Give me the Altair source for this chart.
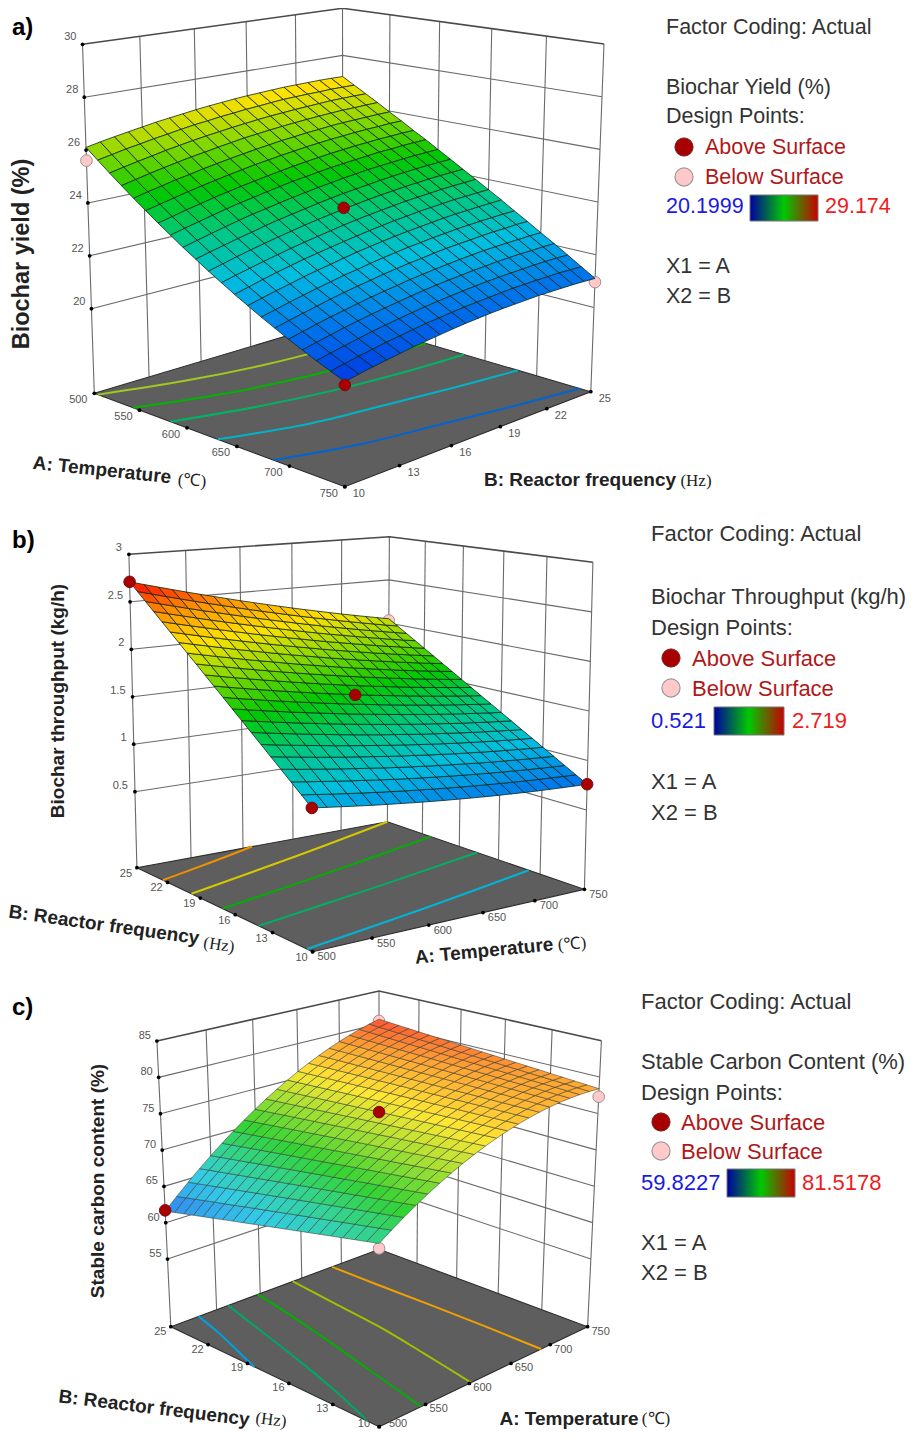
import altair as alt, numpy as np, pandas as pd
alt.data_transformers.disable_max_rows()

A_TICKS = [500, 550, 600, 650, 700, 750]
B_TICKS = [10, 13, 16, 19, 22, 25]

# Response: rows are A = 500..750 (21 steps), columns B = 10..25 (21 steps)
YIELD = [
[26.10,26.21,26.31,26.40,26.49,26.58,26.65,26.72,26.79,26.85,26.90,26.95,26.99,27.02,27.05,27.08,27.09,27.10,27.11,27.11,27.10],
[25.72,25.83,25.94,26.03,26.13,26.21,26.30,26.38,26.44,26.51,26.56,26.62,26.66,26.71,26.75,26.77,26.79,26.80,26.82,26.82,26.82],
[25.34,25.46,25.57,25.67,25.78,25.87,25.96,26.04,26.11,26.18,26.24,26.30,26.35,26.39,26.43,26.46,26.49,26.52,26.53,26.54,26.54],
[24.98,25.10,25.22,25.33,25.43,25.53,25.61,25.70,25.78,25.86,25.92,25.98,26.03,26.08,26.12,26.16,26.19,26.22,26.23,26.25,26.26],
[24.62,24.75,24.86,24.98,25.07,25.18,25.27,25.36,25.44,25.52,25.59,25.66,25.71,25.77,25.81,25.86,25.89,25.91,25.93,25.95,25.96],
[24.28,24.40,24.52,24.64,24.75,24.85,24.95,25.04,25.13,25.20,25.28,25.34,25.41,25.46,25.51,25.55,25.59,25.62,25.64,25.67,25.68],
[23.94,24.06,24.19,24.30,24.42,24.52,24.62,24.71,24.80,24.88,24.96,25.03,25.09,25.15,25.20,25.25,25.28,25.32,25.34,25.37,25.38],
[23.62,23.75,23.87,23.99,24.11,24.22,24.31,24.41,24.50,24.59,24.66,24.73,24.80,24.85,24.90,24.95,25.00,25.02,25.06,25.08,25.10],
[23.30,23.43,23.56,23.68,23.80,23.91,24.00,24.10,24.19,24.27,24.35,24.42,24.49,24.55,24.61,24.65,24.69,24.73,24.76,24.78,24.80],
[23.00,23.13,23.25,23.37,23.48,23.60,23.70,23.79,23.88,23.97,24.05,24.12,24.18,24.24,24.30,24.35,24.39,24.43,24.46,24.48,24.50],
[22.70,22.83,22.96,23.08,23.19,23.30,23.40,23.50,23.59,23.67,23.75,23.82,23.89,23.95,24.00,24.05,24.09,24.13,24.16,24.18,24.20],
[22.42,22.55,22.67,22.79,22.90,23.01,23.11,23.20,23.29,23.38,23.46,23.53,23.59,23.65,23.71,23.75,23.79,23.83,23.86,23.88,23.90],
[22.14,22.27,22.40,22.52,22.63,22.74,22.83,22.92,23.01,23.09,23.17,23.24,23.31,23.36,23.42,23.46,23.50,23.54,23.56,23.58,23.60],
[21.88,22.01,22.13,22.24,22.36,22.46,22.55,22.65,22.74,22.82,22.89,22.96,23.02,23.07,23.12,23.17,23.21,23.23,23.26,23.28,23.30],
[21.62,21.74,21.86,21.97,22.08,22.18,22.28,22.36,22.45,22.53,22.60,22.67,22.72,22.78,22.82,22.87,22.90,22.93,22.95,22.97,22.98],
[21.38,21.50,21.61,21.72,21.83,21.93,22.02,22.10,22.19,22.26,22.33,22.38,22.45,22.50,22.54,22.57,22.61,22.64,22.65,22.68,22.68],
[21.14,21.26,21.37,21.48,21.57,21.67,21.76,21.84,21.91,21.99,22.05,22.11,22.16,22.21,22.25,22.29,22.31,22.33,22.34,22.36,22.36],
[20.92,21.03,21.14,21.25,21.34,21.43,21.51,21.59,21.66,21.73,21.79,21.84,21.88,21.93,21.96,22.00,22.02,22.04,22.04,22.06,22.06],
[20.70,20.81,20.91,21.01,21.11,21.19,21.27,21.34,21.41,21.47,21.52,21.57,21.61,21.65,21.68,21.70,21.72,21.74,21.75,21.75,21.74],
[20.50,20.60,20.70,20.79,20.88,20.95,21.03,21.10,21.15,21.21,21.26,21.30,21.33,21.37,21.40,21.41,21.43,21.43,21.44,21.43,21.42],
[20.30,20.40,20.49,20.57,20.65,20.73,20.79,20.85,20.91,20.96,21.00,21.04,21.07,21.09,21.11,21.13,21.13,21.13,21.13,21.12,21.10],
]
THROUGHPUT = [
[1.000,1.086,1.171,1.257,1.342,1.428,1.513,1.599,1.684,1.770,1.855,1.941,2.026,2.112,2.197,2.283,2.368,2.454,2.539,2.625,2.710],
[.981,1.065,1.150,1.234,1.319,1.403,1.488,1.572,1.657,1.741,1.826,1.910,1.994,2.079,2.163,2.248,2.332,2.417,2.501,2.586,2.670],
[.963,1.046,1.130,1.213,1.297,1.380,1.463,1.547,1.630,1.714,1.797,1.880,1.964,2.047,2.131,2.214,2.297,2.381,2.464,2.548,2.631],
[.945,1.027,1.110,1.192,1.274,1.357,1.439,1.521,1.604,1.686,1.769,1.851,1.933,2.016,2.098,2.180,2.263,2.345,2.427,2.510,2.592],
[.928,1.009,1.091,1.172,1.253,1.335,1.416,1.497,1.578,1.660,1.741,1.822,1.904,1.985,2.066,2.148,2.229,2.310,2.391,2.473,2.554],
[.912,.992,1.073,1.153,1.233,1.313,1.394,1.474,1.554,1.634,1.715,1.795,1.875,1.955,2.036,2.116,2.196,2.276,2.357,2.437,2.517],
[.897,.976,1.055,1.135,1.214,1.293,1.372,1.451,1.531,1.610,1.689,1.768,1.847,1.927,2.006,2.085,2.164,2.243,2.323,2.402,2.481],
[.882,.960,1.038,1.116,1.195,1.273,1.351,1.429,1.507,1.585,1.664,1.742,1.820,1.898,1.976,2.054,2.132,2.211,2.289,2.367,2.445],
[.868,.945,1.022,1.099,1.176,1.254,1.331,1.408,1.485,1.562,1.639,1.716,1.793,1.870,1.947,2.025,2.102,2.179,2.256,2.333,2.410],
[.855,.931,1.007,1.083,1.159,1.235,1.311,1.387,1.463,1.539,1.616,1.692,1.768,1.844,1.920,1.996,2.072,2.148,2.224,2.300,2.376],
[.843,.918,.993,1.068,1.143,1.218,1.293,1.368,1.443,1.518,1.593,1.668,1.743,1.818,1.893,1.968,2.043,2.118,2.193,2.268,2.343],
[.831,.905,.979,1.053,1.127,1.201,1.275,1.349,1.423,1.497,1.571,1.644,1.718,1.792,1.866,1.940,2.014,2.088,2.162,2.236,2.310],
[.820,.893,.966,1.039,1.112,1.185,1.257,1.330,1.403,1.476,1.549,1.622,1.695,1.768,1.841,1.914,1.986,2.059,2.132,2.205,2.278],
[.810,.882,.954,1.026,1.097,1.169,1.241,1.313,1.385,1.457,1.529,1.600,1.672,1.744,1.816,1.888,1.960,2.031,2.103,2.175,2.247],
[.801,.872,.943,1.013,1.084,1.155,1.226,1.297,1.367,1.438,1.509,1.580,1.651,1.721,1.792,1.863,1.934,2.005,2.075,2.146,2.217],
[.792,.862,.932,1.001,1.071,1.141,1.211,1.280,1.350,1.420,1.490,1.559,1.629,1.699,1.769,1.838,1.908,1.978,2.048,2.117,2.187],
[.784,.853,.921,.990,1.059,1.128,1.196,1.265,1.334,1.402,1.471,1.540,1.608,1.677,1.746,1.815,1.883,1.952,2.021,2.089,2.158],
[.777,.845,.912,.980,1.048,1.115,1.183,1.251,1.318,1.386,1.454,1.521,1.589,1.656,1.724,1.792,1.859,1.927,1.995,2.062,2.130],
[.771,.838,.904,.971,1.037,1.104,1.171,1.237,1.304,1.370,1.437,1.504,1.570,1.637,1.703,1.770,1.837,1.903,1.970,2.036,2.103],
[.765,.831,.896,.962,1.027,1.093,1.158,1.224,1.289,1.355,1.421,1.486,1.552,1.617,1.683,1.748,1.814,1.879,1.945,2.010,2.076],
[.760,.825,.889,.954,1.018,1.083,1.147,1.212,1.276,1.341,1.405,1.470,1.534,1.599,1.663,1.728,1.792,1.857,1.921,1.986,2.050],
]
CARBON = [
[68.20,67.87,67.54,67.21,66.88,66.55,66.22,65.89,65.56,65.23,64.90,64.57,64.24,63.91,63.58,63.25,62.92,62.59,62.26,61.93,61.60],
[69.28,68.97,68.66,68.36,68.05,67.74,67.43,67.13,66.82,66.51,66.20,65.89,65.59,65.28,64.97,64.66,64.36,64.05,63.74,63.43,63.12],
[70.30,70.01,69.73,69.44,69.16,68.87,68.59,68.30,68.02,67.73,67.45,67.16,66.87,66.59,66.30,66.02,65.73,65.45,65.16,64.88,64.59],
[71.26,71.00,70.73,70.47,70.21,69.94,69.68,69.42,69.15,68.89,68.63,68.36,68.10,67.84,67.57,67.31,67.05,66.78,66.52,66.26,65.99],
[72.16,71.92,71.68,71.44,71.20,70.96,70.71,70.47,70.23,69.99,69.75,69.51,69.27,69.03,68.79,68.55,68.30,68.06,67.82,67.58,67.34],
[73.00,72.78,72.56,72.34,72.12,71.91,71.69,71.47,71.25,71.03,70.81,70.59,70.37,70.16,69.94,69.72,69.50,69.28,69.06,68.84,68.62],
[73.78,73.58,73.39,73.19,72.99,72.80,72.60,72.40,72.21,72.01,71.82,71.62,71.42,71.23,71.03,70.83,70.64,70.44,70.24,70.05,69.85],
[74.50,74.33,74.15,73.98,73.80,73.63,73.45,73.28,73.11,72.93,72.76,72.58,72.41,72.23,72.06,71.89,71.71,71.54,71.36,71.19,71.01],
[75.16,75.01,74.86,74.70,74.55,74.40,74.25,74.10,73.94,73.79,73.64,73.49,73.34,73.18,73.03,72.88,72.73,72.58,72.42,72.27,72.12],
[75.76,75.63,75.50,75.37,75.24,75.11,74.98,74.85,74.72,74.59,74.46,74.33,74.20,74.07,73.94,73.81,73.68,73.55,73.42,73.29,73.16],
[76.30,76.19,76.09,75.98,75.87,75.76,75.66,75.55,75.44,75.33,75.23,75.12,75.01,74.90,74.80,74.69,74.58,74.47,74.37,74.26,74.15],
[76.78,76.69,76.61,76.52,76.44,76.35,76.27,76.18,76.10,76.01,75.93,75.84,75.76,75.67,75.59,75.50,75.42,75.33,75.25,75.16,75.07],
[77.20,77.14,77.07,77.01,76.95,76.89,76.82,76.76,76.70,76.63,76.57,76.51,76.44,76.38,76.32,76.26,76.19,76.13,76.07,76.00,75.94],
[77.56,77.52,77.48,77.44,77.40,77.36,77.32,77.27,77.23,77.19,77.15,77.11,77.07,77.03,76.99,76.95,76.91,76.87,76.83,76.78,76.74],
[77.86,77.84,77.82,77.80,77.79,77.77,77.75,77.73,77.71,77.69,77.68,77.66,77.64,77.62,77.60,77.58,77.56,77.55,77.53,77.51,77.49],
[78.10,78.10,78.11,78.11,78.12,78.12,78.12,78.13,78.13,78.13,78.14,78.14,78.15,78.15,78.15,78.16,78.16,78.16,78.17,78.17,78.18],
[78.28,78.31,78.33,78.36,78.38,78.41,78.44,78.46,78.49,78.51,78.54,78.57,78.59,78.62,78.64,78.67,78.70,78.72,78.75,78.77,78.80],
[78.40,78.45,78.50,78.54,78.59,78.64,78.69,78.74,78.79,78.83,78.88,78.93,78.98,79.03,79.08,79.12,79.17,79.22,79.27,79.32,79.37],
[78.46,78.53,78.60,78.67,78.74,78.81,78.88,78.95,79.02,79.09,79.17,79.24,79.31,79.38,79.45,79.52,79.59,79.66,79.73,79.80,79.87],
[78.46,78.55,78.65,78.74,78.83,78.92,79.02,79.11,79.20,79.30,79.39,79.48,79.57,79.67,79.76,79.85,79.94,80.04,80.13,80.22,80.32],
[78.40,78.52,78.63,78.75,78.86,78.98,79.09,79.21,79.32,79.44,79.55,79.67,79.78,79.90,80.01,80.13,80.24,80.36,80.47,80.59,80.70],
]

# Camera calibration: where the box corners sit on the page, keyed by (A end, B end)
PANELS = [
 dict(grid=YIELD, zr=(16.8, 30), cmin=20.1999, cmax=29.174, light=0.0, mesh=('#12281c',0.9,0.9),
      floor={(0,0):(94.3,393.3),(0,1):(343,319),(1,0):(344.8,486.7),(1,1):(590.8,391.7)},
      top={(0,0):(82.5,44.3),(0,1):(342.5,8.3),(1,0):(345,90.7),(1,1):(604,44)},
      path=[(500,10),(500,25),(750,25)], a_edge=10, b_edge=750,
      zt=[20,22,24,26,28,30], zl=['20','22','24','26','28','30'],
      al=(-16,7), bl=(14,7), zoff=(-6,-7),
      contours=[([504,525,539,546,548],'#a0c820'),([543,566,580,587,590],'#00b400'),
                ([583,603,617,625,629],'#00b464'),([631,653,664,674,682],'#00b4c8'),
                ([685,706,718,730,740],'#0064d2')],
      red=[(750,10,20.19),(625,17.5,23.8)], pink=[(500,10,25.6),(750,25,20.96)]),
 dict(grid=THROUGHPUT, zr=(-0.3, 3), cmin=0.521, cmax=2.719, light=0.0, mesh=('#12281c',0.9,0.9),
      floor={(0,1):(136.9,867.7),(0,0):(312.6,951.7),(1,0):(584.4,889.3),(1,1):(387.4,821.7)},
      top={(0,1):(128.9,554.3),(0,0):(310.6,586.7),(1,0):(592.9,562.3),(1,1):(389.4,536.7)},
      path=[(500,25),(750,25),(750,10)], a_edge=10, b_edge=500,
      zt=[0.5,1,1.5,2,2.5,3], zl=['0.5','1','1.5','2','2.5','3'],
      al=(14,5.5), bl=(-11,6), zoff=(-7,-6),
      contour_pairs=[([500,625,750],[10.4,12.0,13.8],'#00b4d8'),([500,625,750],[14.1,15.8,17.6],'#00b060'),
                     ([500,625,750],[17.07,19.1,21.3],'#00b000'),([500,625,750],[19.8,22.3,25],'#d4c800'),
                     ([500,555,609],[22.46,23.7,25],'#f09000')],
      red=[(500,25,2.71),(625,17.5,1.59),(500,10,1.0),(750,10,0.76)], pink=[(750,25,2.03)]),
 dict(grid=CARBON, zr=(45.7, 85), cmin=59.8227, cmax=81.5178, light=0.2, mesh=('#2e3a30',0.7,0.75),
      floor={(0,1):(170.8,1326.7),(0,0):(379.2,1426.7),(1,0):(587.6,1326.7),(1,1):(379.2,1249.3)},
      top={(0,1):(156.9,1041),(0,0):(379,1106.7),(1,0):(601.4,1040.7),(1,1):(379,991)},
      path=[(500,25),(750,25),(750,10)], a_edge=10, b_edge=500,
      zt=[55,60,65,70,75,80,85], zl=['55','60','65','70','75','80','85'],
      al=(13,5), bl=(-10.5,5), zoff=(-6,-5),
      contour_pairs=[([500,510,521,530],[18.5,20.5,22.75,25],'#00a0e0'),
                     ([500,516,533,548,563],[10.7,13.75,17.5,21.25,25],'#00a868'),
                     ([545,559,573,586,597],[10,13.75,17.5,21.25,25],'#00b000'),
                     ([602,614,625,632,639],[10,13.75,17.5,21.25,25],'#a0c000'),
                     ([688,689,689,688,688],[10,13.75,17.5,21.25,25],'#f0a000')],
      red=[(500,25,61.7),(625,17.5,75.2)], pink=[(500,10,67.6),(750,25,80.45),(750,10,77.3)]),
]
A_CONTOUR_B = [10, 13.75, 17.5, 21.25, 25]

COLOR_STOPS = [0, .125, .25, .375, .5, .625, .75, .875, 1]
COLOR_RGB = [(0,50,225),(0,120,235),(0,190,225),(0,200,130),(0,200,0),(130,215,0),(255,225,0),(255,140,0),(255,0,0)]

TITLES_BOLD = [(12,28,'a)',0),(12,541,'b)',0),(12,1008,'c)',0)]
YTITLE_A = [(22,254,'Biochar yield (%)',270)]
AXIS_BOLD = [
 (58,701,'Biochar throughput (kg/h)',270),(98,1181,'Stable carbon content (%)',270),
 (102,470,'A: Temperature',6),(580,480,'B: Reactor frequency',0),
 (104,925,'B: Reactor frequency',8),(484,951,'A: Temperature',354.5),
 (154,1408,'B: Reactor frequency',7),(569,1419,'A: Temperature',0),
]
AXIS_UNITS = [
 (192,481,'(℃)',4),(696,481,'(Hz)',0),(219,945,'(Hz)',9),(572,944,'(℃)',355),(271,1420,'(Hz)',7),(656,1419,'(℃)',0),
]
LEGENDS = [
 dict(x=666,size=21.5,ys=[28,88,117,267,297],head='Biochar Yield (%)',dots=(684,705,147,177),lo='20.1999',hi='29.174',bar=(750,818,195,221),hix=825,ly=207),
 dict(x=651,size=22,ys=[534,597,628,782,813],head='Biochar Throughput (kg/h)',dots=(671,692,658,688),lo='0.521',hi='2.719',bar=(714,784,707,735),hix=792,ly=721),
 dict(x=641,size=22,ys=[1002,1062,1093,1243,1273],head='Stable Carbon Content (%)',dots=(661,681,1122,1151),lo='59.8227',hi='81.5178',bar=(727,795,1169,1197),hix=802,ly=1183),
]

X = alt.X('x:Q', scale=alt.Scale(domain=[8, 908]), axis=None)
Y = alt.Y('y:Q', scale=alt.Scale(domain=[1430, 8]), axis=None)

def homography(c):
    src = [(0,0),(0,1),(1,0),(1,1)]
    M, R = [], []
    for (u,v) in src:
        x,y = c[(u,v)]
        M.append([u,v,1,0,0,0,-u*x,-v*x]); R.append(x)
        M.append([0,0,0,u,v,1,-u*y,-v*y]); R.append(y)
    h = np.linalg.solve(np.array(M,float), np.array(R,float))
    return np.append(h,1).reshape(3,3)

def apply(H,u,v):
    p = H @ np.array([u,v,1.0])
    return p[:2]/p[2]

def projector(P):
    Hf, Ht = homography(P['floor']), homography(P['top'])
    z0, z1 = P['zr']
    def f(a,b,z):
        u,v = (a-500)/250,(b-10)/15
        t = (z-z0)/(z1-z0)
        pf, pt = apply(Hf,u,v), apply(Ht,u,v)
        return tuple(pf+t*(pt-pf))
    return f

def shade(t, light):
    t = min(max(t,0),1)
    c = [np.interp(t,COLOR_STOPS,[r[k] for r in COLOR_RGB]) for k in range(3)]
    c = [v+(255-v)*light for v in c]
    return '#%02x%02x%02x' % tuple(int(round(v)) for v in c)

def text_layer(rows, size, color='#333333', font='Liberation Sans', weight='normal', align='left'):
    df = pd.DataFrame(rows, columns=['x','y','t','a'])
    return alt.Chart(df).mark_text(fontSize=size, color=color, font=font, fontWeight=weight, align=align, baseline='middle').encode(
        X, Y, text='t:N', angle=alt.Angle('a:Q', scale=None))

def dots(pts, size, fill, stroke, sw=1):
    df = pd.DataFrame(pts, columns=['x','y'])
    return alt.Chart(df).mark_point(filled=True, shape='circle', size=size, fill=fill, stroke=stroke, strokeWidth=sw, opacity=1).encode(X, Y)

def lines(paths, color, width, **kw):
    rows = [dict(x=p[0],y=p[1],id=i,k=k) for i,path in enumerate(paths) for k,p in enumerate(path)]
    return alt.Chart(pd.DataFrame(rows)).mark_line(color=color, strokeWidth=width, **kw).encode(X, Y, detail='id:N', order='k:Q')

def tick_label(x, y, off, text):
    ly = y + off[1]
    lx = x + off[0]
    if ly > 1423.5:            # keep the lowest labels inside the canvas, clear of the floor tip
        ly = 1423.5
        lx = x + off[0] * 1.45
    return (lx, ly, text, 0)

layers = []
for P in PANELS:
    f = projector(P)
    z0, z1 = P['zr']
    p0,p1,p2 = P['path']
    wall = []
    for z in P['zt'][:-1]:
        wall.append([f(*p0,z),f(*p1,z),f(*p2,z)])
    for seg in ((p0,p1),(p1,p2)):
        a,b = seg
        if a[0]==b[0]:
            for t in B_TICKS[1:-1]:
                wall.append([f(a[0],t,z0),f(a[0],t,z1)])
        else:
            for t in A_TICKS[1:-1]:
                wall.append([f(t,a[1],z0),f(t,a[1],z1)])
    for c in (p0,p1,p2):
        wall.append([f(*c,z0),f(*c,z1)])
    layers.append(lines(wall,'#6a6a6a',1.1))
    layers.append(lines([[f(*p0,z1),f(*p1,z1),f(*p2,z1)]],'#4a4a4a',1.6))
    corners = [(500,10),(500,25),(750,25),(750,10),(500,10)]
    fl = pd.DataFrame([dict(x=f(a,b,z0)[0],y=f(a,b,z0)[1],k=k) for k,(a,b) in enumerate(corners)])
    layers.append(alt.Chart(fl).mark_line(fill='#5e5e5e', stroke='#2e2e2e', strokeWidth=1.1).encode(X,Y,order='k:Q'))
    cps = P.get('contour_pairs') or [(a,A_CONTOUR_B,c) for a,c in P['contours']]
    for As,Bs,col in cps:
        layers.append(lines([[f(a,b,z0) for a,b in zip(As,Bs)]],col,2,interpolate='cardinal'))
    layers.append(dots([f(*q) for q in P['pink']],135,'#ffc9c9','#a09090'))
    g = P['grid']
    rows = []
    step_a, step_b = 12.5, 0.75
    for i in range(20):
        for j in range(20):
            idx = [(i,j),(i+1,j),(i+1,j+1),(i,j+1),(i,j)]
            zm = (g[i][j]+g[i+1][j]+g[i+1][j+1]+g[i][j+1])/4
            col = shade((zm-P['cmin'])/(P['cmax']-P['cmin']),P['light'])
            for k,(ii,jj) in enumerate(idx):
                x,y = f(500+ii*step_a,10+jj*step_b,g[ii][jj])
                rows.append(dict(x=round(x,2),y=round(y,2),id=i*100+j,k=k,col=col))
    ms,mw,mo = P['mesh']
    layers.append(alt.Chart(pd.DataFrame(rows)).mark_line(stroke=ms, strokeWidth=mw, strokeOpacity=mo).encode(
        X, Y, detail='id:N', order='k:Q', fill=alt.Fill('col:N', scale=None)))
    layers.append(dots([f(*q) for q in P['red']],135,'#a80000','#701010'))
    corner_z = p0
    tick_pts, labs_a, labs_b, labs_z = [], [], [], []
    for a in A_TICKS:
        x,y = f(a,P['a_edge'],z0); tick_pts.append((x,y))
        labs_a.append(tick_label(x,y,P['al'],str(a)))
    for b in B_TICKS:
        x,y = f(P['b_edge'],b,z0); tick_pts.append((x,y))
        labs_b.append(tick_label(x,y,P['bl'],str(b)))
    for z,l in zip(P['zt'],P['zl']):
        x,y = f(*corner_z,z); tick_pts.append((x,y))
        labs_z.append((x+P['zoff'][0],y+P['zoff'][1],l,0))
    layers.append(dots(tick_pts,14,'#000000','#000000',0))
    layers.append(text_layer(labs_a+labs_b,11,'#555555',align='center'))
    layers.append(text_layer(labs_z,11,'#555555',align='right'))

layers.append(text_layer(TITLES_BOLD,24,'#000000',weight='bold'))
layers.append(text_layer(YTITLE_A,23.5,'#222222',weight='bold',align='center'))
layers.append(text_layer(AXIS_BOLD,19,'#222222',weight='bold',align='center'))
layers.append(text_layer(AXIS_UNITS,17,'#222222',font='Liberation Serif',align='center'))

for L in LEGENDS:
    x = L['x']; ys = L['ys']; s = L['size']
    layers.append(text_layer([(x,ys[0],'Factor Coding: Actual',0),(x,ys[1],L['head'],0),(x,ys[2],'Design Points:',0),
                              (x,ys[3],'X1 = A',0),(x,ys[4],'X2 = B',0)],s,'#333333'))
    dx,tx,y1,y2 = L['dots']
    layers.append(dots([(dx,y1)],330,'#a80000','#702020'))
    layers.append(dots([(dx,y2)],330,'#ffc9c9','#999999',1.2))
    layers.append(text_layer([(tx,y1+1,'Above Surface',0),(tx,y2+1,'Below Surface',0)],s,'#b01818'))
    layers.append(text_layer([(x,L['ly'],L['lo'],0)],s,'#1a1ae0'))
    layers.append(text_layer([(L['hix'],L['ly'],L['hi'],0)],s,'#ee1c1c'))
    bx0,bx1,by0,by1 = L['bar']
    bar = pd.DataFrame({'x':[bx0],'x2':[bx1],'y':[by0],'y2':[by1]})
    grad = alt.Gradient(gradient='linear', x1=0, x2=1, y1=0, y2=0, stops=[
        alt.GradientStop(color='#0000a0', offset=0), alt.GradientStop(color='#00c800', offset=0.5), alt.GradientStop(color='#c80000', offset=1)])
    layers.append(alt.Chart(bar).mark_rect(fill=grad, stroke='#777777', strokeWidth=1).encode(X, alt.X2('x2:Q'), Y, alt.Y2('y2:Q')))

chart = alt.layer(*layers).properties(width=900, height=1422, padding=0, background='white',
    autosize=alt.AutoSizeParams(type='none', contains='padding')).configure_view(stroke=None)
chart.save("out.html", embed_options={"renderer": "svg", "actions": False})
